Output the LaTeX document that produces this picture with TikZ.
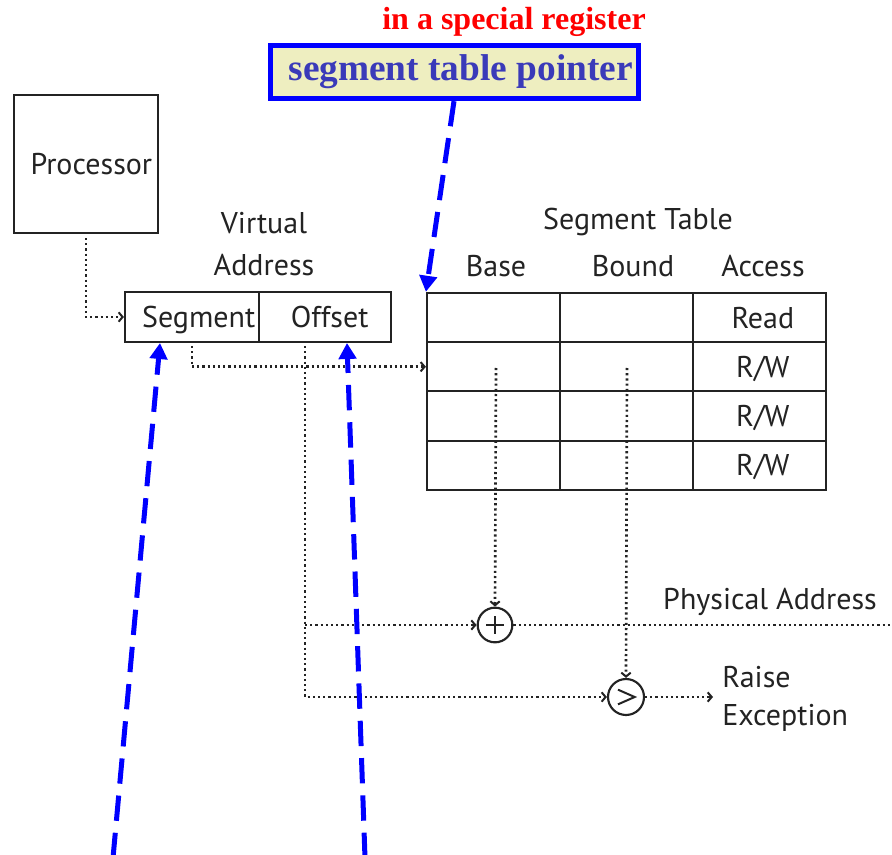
\documentclass[tikz,border=0pt]{standalone}
\usepackage{fontspec}
\setmainfont{PT Sans}
\newfontfamily\timesfont{Liberation Serif}
\usetikzlibrary{arrows.meta,shadows}

\definecolor{ink}{RGB}{35,35,35}
\definecolor{notefill}{RGB}{238,238,192}
\definecolor{notetext}{RGB}{58,58,185}

\tikzset{
  inkline/.style={draw=ink, line width=1.6pt},
  labeltext/.style={text=ink, font=\fontsize{22.5}{32}\selectfont, inner sep=0pt},
  cell/.style={inkline, minimum width=99.75pt, minimum height=36.94pt,
    inner sep=0pt, text height=17pt, text depth=1pt, text=ink,
    font=\fontsize{22.5}{25}\selectfont},
  dots/.style={draw=ink, line width=2pt, dash pattern=on 1.6pt off 2.3pt},
  flow/.style={dots, -{Straight Barb[length=3pt,width=7pt,line width=1.5pt]}},
  opcircle/.style={circle, inkline, minimum size=26pt, inner sep=0pt},
  pointer/.style={draw=blue, line width=3.75pt, dash pattern=on 19pt off 9pt,
    -{Triangle[length=12pt,width=13pt]}}
}

\begin{document}
\begin{tikzpicture}[x=0.75pt,y=-0.75pt]
\useasboundingbox (0,0) rectangle (892,855);

% register holding the table address
\node[text=red, font=\timesfont\bfseries\fontsize{24}{28}\selectfont, inner sep=0pt]
  (reglabel) at (514,22) {in a special register};
\node[draw=blue, line width=3.75pt, fill=notefill, minimum width=276pt,
  minimum height=40pt, inner sep=0pt,
  drop shadow={opacity=0.3, shadow xshift=2pt, shadow yshift=-2pt},
  text=notetext, font=\timesfont\bfseries\fontsize{28}{32}\selectfont]
  (stp) at (454,72) {\hspace*{10pt}segment table pointer};

% processor and virtual address
\node[inkline, minimum width=108pt, minimum height=103.5pt, labeltext]
  (proc) at (86,164) {\hspace*{8pt}Processor};
\node[labeltext, align=center] (valabel) at (264,244) {Virtual\\Address};
\node[cell, minimum width=100.5pt, minimum height=37.5pt] (seg) at (192,317) {\hspace*{10pt}Segment};
\node[cell, minimum width=99pt, minimum height=37.5pt] (off) at (325,317) {\hspace*{7pt}Offset};

% segment table
\node[labeltext] (sthead) at (638,222) {Segment Table};
\node[labeltext] (hbase) at (496,266) {Base};
\node[labeltext] (hbound) at (633,266) {Bound};
\node[labeltext] (haccess) at (763,266) {Access};
\foreach \r/\y/\acc in {1/317.5/Read,2/366.75/R\slash W,3/416/R\slash W,4/465.25/R\slash W}{
  \node[cell] (t-\r-1) at (493.5,\y) {};
  \node[cell] (t-\r-2) at (626.5,\y) {};
  \node[cell] (t-\r-3) at (759.5,\y) {\hspace*{5pt}\acc};
}

% adder and comparator
\node[opcircle] (plus) at (495,625) {};
\draw[inkline, line width=1.5pt] ([xshift=-6.5pt]plus.center) -- ([xshift=6.5pt]plus.center)
  ([yshift=-6.5pt]plus.center) -- ([yshift=6.5pt]plus.center);
\node[opcircle, minimum size=27pt] (gt) at (626,697) {};
\draw[inkline, line width=1.5pt] ([shift={(-6pt,5.5pt)}]gt.center) -- ([xshift=6.5pt]gt.center)
  -- ([shift={(-6pt,-5.5pt)}]gt.center);

\node[labeltext] (phys) at (770,602) {Physical Address};
\node[labeltext, anchor=west, align=left, font=\fontsize{22.5}{28.5}\selectfont]
  (raise) at (722,699) {Raise\\Exception};

% tap points for the dotted data paths
\coordinate (segtap) at (192,346);
\coordinate (offtap) at (305,346);
\coordinate (basetap) at (496,368);
\coordinate (boundtap) at (627,368);
\coordinate (physout) at (892,625);
\coordinate (excout) at (713,697);

\draw[flow] ([yshift=-3pt]proc.south) |- (seg.west);
\draw[flow] (segtap) |- (t-2-1.west);
\draw[flow] (offtap) |- (gt.west);
\draw[flow] (offtap |- plus) -- (plus.west);
\draw[flow] (basetap) -- (plus.north);
\draw[flow] (boundtap) -- (gt.north);
\draw[dots] (plus.east) -- (physout);
\draw[flow] (gt.east) -- (excout);

% annotation pointers
\coordinate (segfoot) at (113,858);
\coordinate (offfoot) at (365,858);
\coordinate (segin) at (160,343);
\coordinate (offin) at (347,343);
\draw[pointer] (stp.south) -- (t-1-1.north west);
\draw[pointer] (segfoot) -- (segin);
\draw[pointer] (offfoot) -- (offin);
\end{tikzpicture}
\end{document}
